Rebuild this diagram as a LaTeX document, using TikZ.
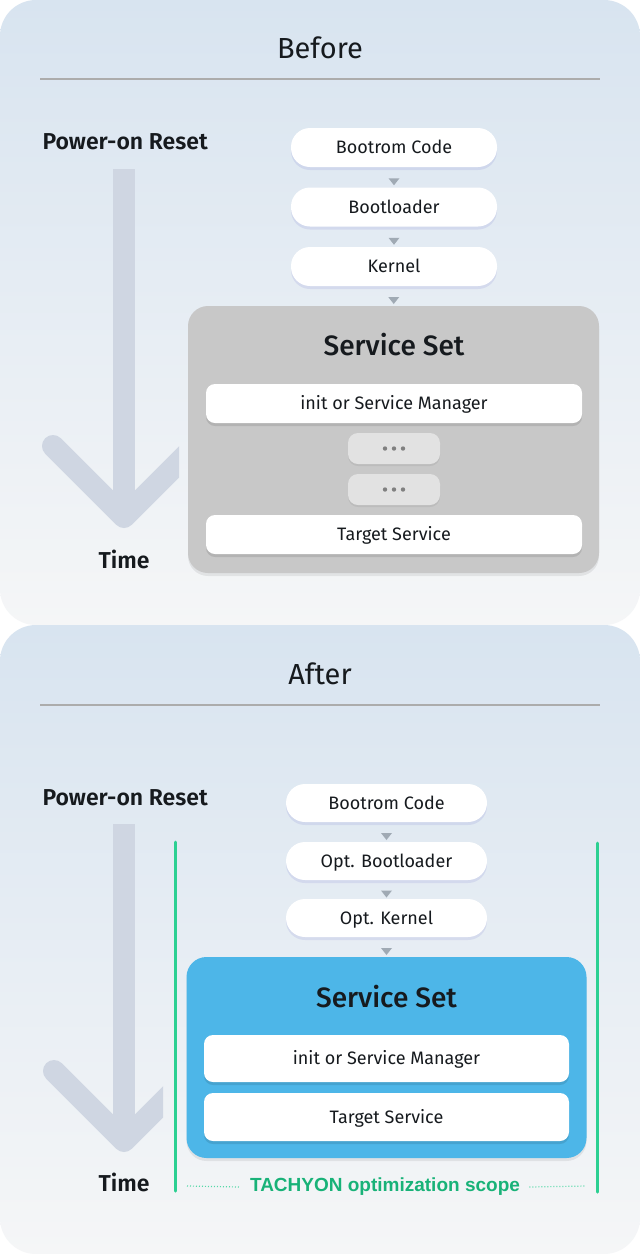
\documentclass[tikz,border=0pt]{standalone}
\usepackage{fontspec}
\setmainfont{Fira Sans}
\newfontfamily\medfont{Fira Sans Medium}
\newfontfamily\semifont{Fira Sans SemiBold}
\newfontfamily\tachfont{Liberation Sans}
\usepackage{xcolor}
\usetikzlibrary{shapes, arrows.meta, positioning, shadows}
\definecolor{panelTop}{RGB}{216,228,240}
\definecolor{panelBot}{RGB}{245,246,247}
\definecolor{timeArrow}{RGB}{207,214,226}
\definecolor{ruleGray}{RGB}{172,172,172}
\definecolor{triGray}{RGB}{160,170,180}
\definecolor{setGray}{RGB}{200,200,200}
\definecolor{dotBox}{RGB}{226,226,226}
\definecolor{dotGray}{RGB}{128,128,128}
\definecolor{setBlue}{RGB}{77,182,232}
\definecolor{scopeGreen}{RGB}{44,208,146}
\definecolor{labelGreen}{RGB}{24,178,120}
\definecolor{inkText}{RGB}{22,26,30}

\begin{document}
\begin{tikzpicture}[x=1pt, y=-1pt,
  panel/.style={top color=panelTop, bottom color=panelBot, rounded corners=36pt},
  ttl/.style={font=\fontsize{29}{34}\selectfont, text=inkText},
  rulel/.style={draw=ruleGray, line width=1.6pt},
  side/.style={font=\semifont\fontsize{23}{27}\selectfont, text=inkText},
  timearrow/.style={draw=timeArrow, line width=22pt},
  stage/.style={fill=white, rounded corners=19pt, minimum width=206pt, minimum height=39pt, inner sep=0pt,
    text height=12pt, text depth=0pt, font=\fontsize{18}{21}\selectfont, text=inkText,
    drop shadow={shadow xshift=0pt, shadow yshift=-3pt, opacity=0.1, fill=blue!50!gray}},
  setbox/.style={rounded corners=20pt, inner sep=0pt,
    drop shadow={shadow xshift=0pt, shadow yshift=-3pt, opacity=0.07, fill=black}},
  settitle/.style={font=\medfont\fontsize{28}{32}\selectfont, text=inkText},
  innerbox/.style={fill=white, rounded corners=9pt, minimum width=376pt, minimum height=39pt, inner sep=0pt,
    text height=12pt, text depth=0pt, font=\fontsize{18}{21}\selectfont, text=inkText,
    drop shadow={shadow xshift=0pt, shadow yshift=-3pt, opacity=0.1, fill=black}},
  dotbox/.style={fill=dotBox, rounded corners=10pt, minimum width=92pt, minimum height=31pt, inner sep=0pt,
    drop shadow={shadow xshift=0pt, shadow yshift=-2pt, opacity=0.06, fill=black}},
  scopeline/.style={draw=scopeGreen, line width=3pt, line cap=round},
  scopedot/.style={draw=scopeGreen!80, line width=1.2pt, dash pattern=on 1pt off 2pt},
  tach/.style={font=\tachfont\bfseries\fontsize{19}{22}\selectfont, text=labelGreen}]

\fill[white] (0,0) rectangle (640,1254);
\useasboundingbox (0,0) rectangle (640,1254);

% Before
\begin{scope}
\shade[panel] (0,0) rectangle (640,625);
\node[ttl] (ttlB) at (320,48) {Before};
\draw[rulel] (40,79) -- (600,79);
\node[side, anchor=west] (porB) at (39,142) {Power-on Reset};
\begin{scope}
\clip (0,150) rectangle (179,600);
\draw[timearrow] (124,169) -- (124,517);
\draw[timearrow, line cap=round, line join=round] (53,446) -- (124,517) -- (195,446);
\end{scope}
\node[side] (timeB) at (124,559) {Time};

\node[stage] (bootB) at (394,147.5) {Bootrom Code};
\node[stage] (blB) at (394,207) {Bootloader};
\node[stage] (kerB) at (394,266.5) {Kernel};

\node[setbox, fill=setGray, minimum width=411pt, minimum height=267pt] (setB) at (393.5,439.5) {};
\node[settitle] (stB) at (394,345) {Service Set};
\node[innerbox] (initB) at (394,403.5) {init or Service Manager};
\node[dotbox] (d1B) at (394,448.5) {};
\node[dotbox] (d2B) at (394,489.5) {};
\node[innerbox] (tgtB) at (394,534.5) {Target Service};
\foreach \d in {d1B, d2B}
  \foreach \dx in {-9,0,9}
    \fill[dotGray] (\d) ++(\dx,0) circle (2.2pt);

\foreach \a/\b in {bootB/blB, blB/kerB, kerB/setB} {
  \path (\a.south) -- coordinate[midway] (m) (\b.north);
  \fill[triGray] (m) ++(-5.5,1) -- ++(11,0) -- ++(-5.5,7) -- cycle;
}
\end{scope}

% After
\begin{scope}[shift={(0,625)}, stage/.append style={minimum width=201pt, minimum height=38pt}]
\shade[panel] (0,0) rectangle (640,629);
\node[ttl] (ttlA) at (320,49) {After};
\draw[rulel] (40,80) -- (600,80);
\node[side, anchor=west] (porA) at (39,173) {Power-on Reset};
\begin{scope}
\clip (0,180) rectangle (163,600);
\draw[timearrow] (124,199) -- (124,516);
\draw[timearrow, line cap=round, line join=round] (54,446) -- (124,516) -- (194,446);
\end{scope}
\node[side] (timeA) at (124,557) {Time};

\node[stage] (bootA) at (386.5,178) {Bootrom Code};
\node[stage] (blA) at (386.5,236) {Opt. Bootloader};
\node[stage] (kerA) at (386.5,293) {Opt. Kernel};

\node[setbox, fill=setBlue, minimum width=400pt, minimum height=201pt] (setA) at (386.5,432.5) {};
\node[settitle] (stA) at (386.5,372) {Service Set};
\node[innerbox, minimum width=365pt, minimum height=47pt] (initA) at (386.5,433.5) {init or Service Manager};
\node[innerbox, minimum width=365pt, minimum height=48pt] (tgtA) at (386.5,492) {Target Service};

\foreach \a/\b in {bootA/blA, blA/kerA, kerA/setA} {
  \path (\a.south) -- coordinate[midway] (m) (\b.north);
  \fill[triGray] (m) ++(-5.5,1) -- ++(11,0) -- ++(-5.5,7) -- cycle;
}

% optimization scope
\draw[scopeline] (175,217) -- (175,566);
\draw[scopeline] (597,218) -- (597,567);
\node[tach] (tachA) at (385,562) {TACHYON optimization scope};
\coordinate (dlA) at (187,561);
\coordinate (drA) at (586,561);
\draw[scopedot] (dlA) -- ([xshift=-6pt]tachA.west);
\draw[scopedot] ([xshift=6pt]tachA.east) -- (drA);
\end{scope}
\end{tikzpicture}
\end{document}
